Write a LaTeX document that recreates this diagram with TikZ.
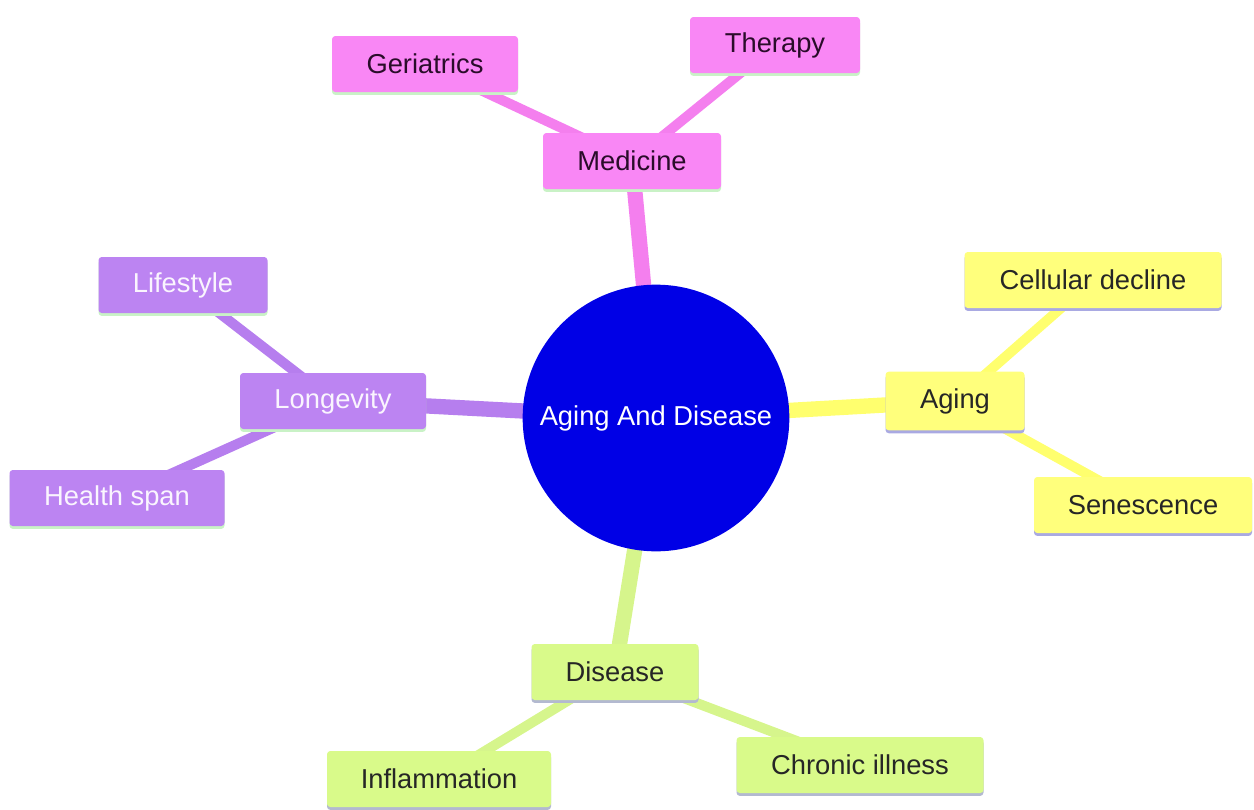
\documentclass[tikz,border=0pt]{standalone}
\usepackage{fontspec}
\setmainfont{Liberation Sans}
\usetikzlibrary{shadows,backgrounds}
\definecolor{hubblue}{HTML}{0000E6}
\definecolor{medpink}{HTML}{F987F5}
\definecolor{medline}{HTML}{F47FEE}
\definecolor{longpurple}{HTML}{BC84F2}
\definecolor{longline}{HTML}{B67EEE}
\definecolor{agingyellow}{HTML}{FFFF7C}
\definecolor{agingline}{HTML}{FFFF6E}
\definecolor{disgreen}{HTML}{D9FA8A}
\definecolor{disline}{HTML}{D6F58C}
\definecolor{greenrim}{HTML}{C9F2C6}
\definecolor{lavrim}{HTML}{A9A9E2}
\definecolor{darktext}{HTML}{2A0C2A}
\tikzset{
  topic/.style={rounded corners=2.5pt, inner sep=0pt, minimum height=42pt,
    font=\fontsize{20.5}{24}\selectfont},
  rim/.style={drop shadow={shadow xshift=0pt, shadow yshift=-2.2pt, opacity=1, fill=#1}},
  medbox/.style={topic, fill=medpink, text=darktext, rim=greenrim},
  longbox/.style={topic, fill=longpurple, text=white!92!longpurple, rim=greenrim},
  agingbox/.style={topic, fill=agingyellow, text=black!85, rim=lavrim},
  disbox/.style={topic, fill=disgreen, text=black!85, rim=lavrim!80!disgreen},
  trunk/.style={line width=11.5pt},
  twig/.style={line width=7.5pt}
}

\begin{document}
\begin{tikzpicture}[x=0.75pt, y=-0.75pt]
    \useasboundingbox (0,0) rectangle (1254,810);

    % centre topic
    \node[circle, fill=hubblue, minimum size=200pt, inner sep=0pt, text=white,
          font=\fontsize{20.5}{24}\selectfont] (hub) at (656,418) {Aging And Disease};

    % Medicine branch
    \node[medbox, minimum width=133.5pt] (medicine) at (632,161) {Medicine};
    \node[medbox, minimum width=139.5pt] (geriatrics) at (425,64) {Geriatrics};
    \node[medbox, minimum width=127.5pt] (therapy) at (775,45) {Therapy};

    % Longevity branch
    \node[longbox, minimum width=139.5pt] (longevity) at (333,401) {Longevity};
    \node[longbox, minimum width=126.75pt] (lifestyle) at (183,285) {Lifestyle};
    \node[longbox, minimum width=161.25pt] (healthspan) at (117,498) {Health span};

    % Aging branch
    \node[agingbox, minimum width=104.25pt, minimum height=44pt] (aging) at (955,401) {Aging};
    \node[agingbox, minimum width=192.75pt] (cellular) at (1093,280) {Cellular decline};
    \node[agingbox, minimum width=163.5pt] (senescence) at (1143,505) {Senescence};

    % Disease branch
    \node[disbox, minimum width=125.25pt] (disease) at (615,672) {Disease};
    \node[disbox, minimum width=168pt] (inflammation) at (439,779) {Inflammation};
    \node[disbox, minimum width=185.25pt] (chronic) at (860,765) {Chronic illness};

    % connectors behind the boxes
    \begin{scope}[on background layer]
    \draw[trunk, medline] (hub.center) -- (medicine.center);
    \draw[twig, medline] (medicine.center) -- (geriatrics.center);
    \draw[twig, medline] (medicine.center) -- (therapy.center);

    \draw[trunk, longline] (hub.center) -- (longevity.center);
    \draw[twig, longline] (longevity.center) -- (lifestyle.center);
    \draw[twig, longline] (longevity.center) -- (healthspan.center);

    \draw[trunk, agingline] (hub.center) -- (aging.center);
    \draw[twig, agingline] (aging.center) -- (cellular.center);
    \draw[twig, agingline] (aging.center) -- (senescence.center);

    \draw[trunk, disline] (hub.center) -- (disease.center);
    \draw[twig, disline] (disease.center) -- (inflammation.center);
    \draw[twig, disline] (disease.center) -- (chronic.center);
    \end{scope}

\end{tikzpicture}
\end{document}
